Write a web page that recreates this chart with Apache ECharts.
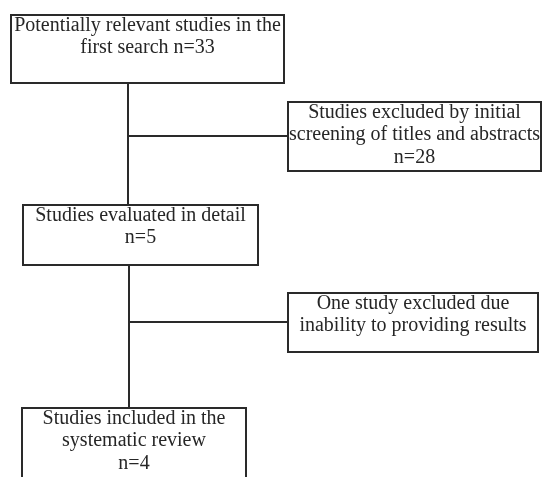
<!DOCTYPE html>
<html><head><meta charset="utf-8">
<script src="https://cdn.jsdelivr.net/npm/echarts@6/dist/echarts.min.js"></script>
<style>html,body{margin:0;padding:0;background:#fff}#c{width:543px;height:477px}</style>
</head><body><div id="c"></div>
<script>
// Flow steps (text) and their box extents (x1, y1, x2, y2) in chart units
const boxLabels = [
  "Potentially relevant studies in the\nfirst search n=33",
  "Studies excluded by initial\nscreening of titles and abstracts\nn=28",
  "Studies evaluated in detail\nn=5",
  "One study excluded due\ninability to providing results",
  "Studies included in the\nsystematic review\nn=4"
];
const boxLeft   = [11, 288, 23, 288, 22];
const boxTop    = [15, 102, 205, 293, 408];
const boxRight  = [284, 541, 258, 538, 246];
const boxBottom = [83, 171, 265, 352, 490];
// connectors: [x1,y1,x2,y2]
const connFrom = [[128, 83], [128, 136], [129, 265], [129, 322]];
const connTo   = [[128, 205], [288, 136], [129, 408], [288, 322]];

const boxData = boxLabels.map((t, i) => [boxLeft[i], boxTop[i], boxRight[i], boxBottom[i], i]);
const lineData = connFrom.map((f, i) => ({ coords: [f, connTo[i]] }));

const chart = echarts.init(document.getElementById('c'), null, { renderer: 'canvas' });
chart.setOption({
  animation: false,
  grid: { left: 0, right: 0, top: 0, bottom: 0 },
  xAxis: { type: 'value', min: 0, max: 543, show: false },
  yAxis: { type: 'value', min: 0, max: 477, inverse: true, show: false },
  series: [
    {
      type: 'lines', coordinateSystem: 'cartesian2d', polyline: false,
      lineStyle: { color: '#2a2a2a', width: 2, opacity: 1 },
      data: lineData, silent: true, z: 1
    },
    {
      type: 'custom', coordinateSystem: 'cartesian2d', z: 2,
      encode: { x: [0, 2], y: [1, 3] },
      data: boxData,
      renderItem: function (params, api) {
        const p1 = api.coord([api.value(0), api.value(1)]);
        const p2 = api.coord([api.value(2), api.value(3)]);
        const idx = api.value(4);
        return {
          type: 'group',
          children: [
            { type: 'rect', shape: { x: p1[0], y: p1[1], width: p2[0] - p1[0], height: p2[1] - p1[1] },
              style: { fill: '#fff', stroke: '#2a2a2a', lineWidth: 2 } },
            { type: 'text', style: { x: (p1[0] + p2[0]) / 2, y: p1[1] - 1, text: boxLabels[idx],
              align: 'center', verticalAlign: 'top', fill: '#262626',
              font: '20px "Liberation Serif", serif', lineHeight: 22.5 } }
          ]
        };
      }
    }
  ]
});
</script></body></html>
